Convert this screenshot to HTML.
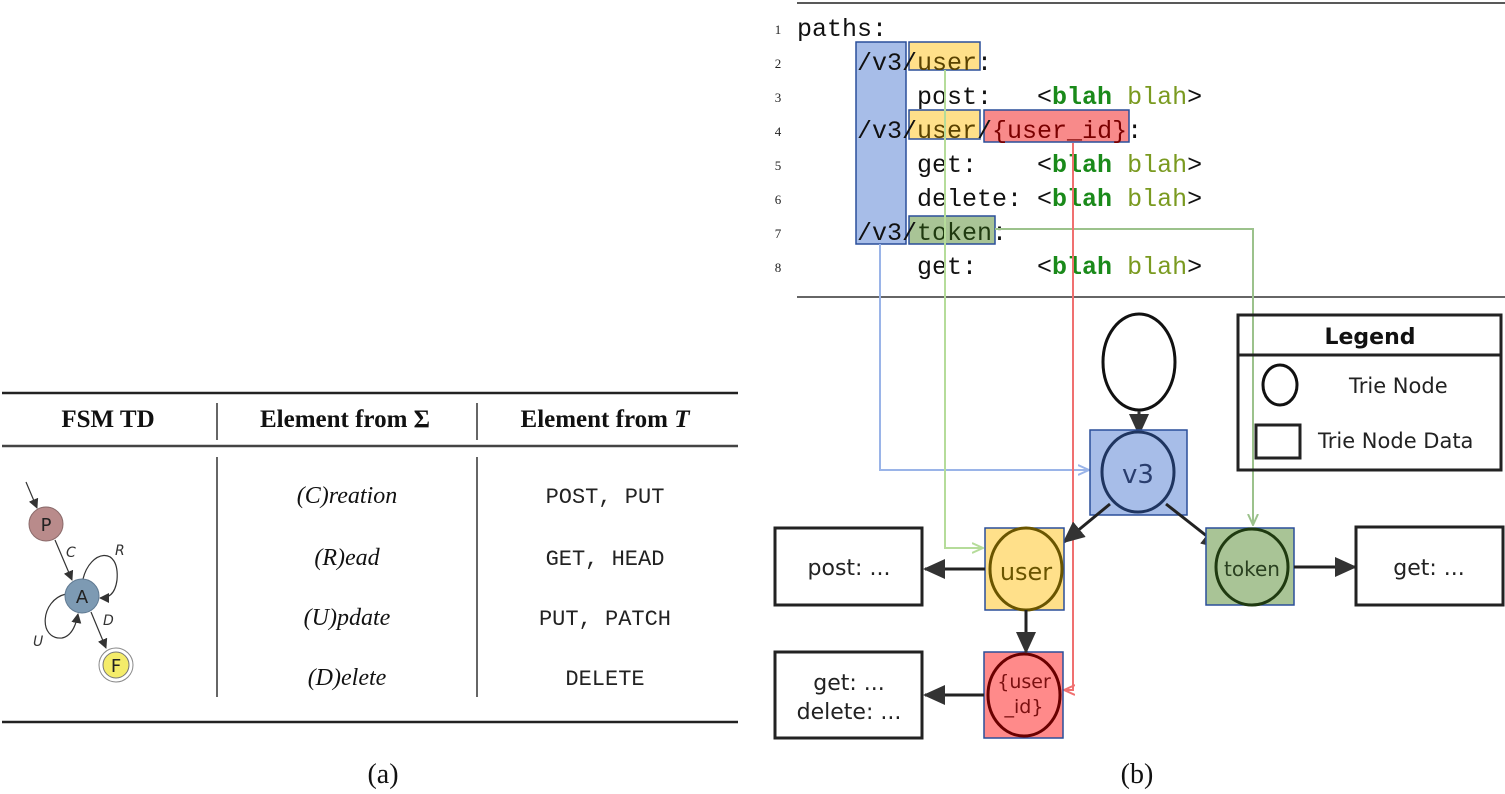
<!DOCTYPE html>
<html><head><meta charset="utf-8"><style>body{margin:0;background:#fff}svg{display:block}.pre text{white-space:pre}</style></head>
<body>
<svg width="1505" height="794" viewBox="0 0 1505 794" xmlns="http://www.w3.org/2000/svg">
<defs>
<marker id="ab" markerWidth="10" markerHeight="10" refX="9" refY="5" orient="auto" markerUnits="userSpaceOnUse"><path d="M0,0 L10,5 L0,10 z" fill="#333"/></marker>
<marker id="ak" markerWidth="22" markerHeight="20" refX="20" refY="10" orient="auto" markerUnits="userSpaceOnUse"><path d="M0,0 L22,10 L0,20 z" fill="#333"/></marker>
<marker id="abl" markerWidth="12" markerHeight="12" refX="11" refY="6" orient="auto" markerUnits="userSpaceOnUse"><path d="M0,1 L11,6 L0,11" fill="none" stroke="#9ab4e8" stroke-width="2"/></marker>
<marker id="agl" markerWidth="12" markerHeight="12" refX="11" refY="6" orient="auto" markerUnits="userSpaceOnUse"><path d="M0,1 L11,6 L0,11" fill="none" stroke="#b5dc9a" stroke-width="2"/></marker>
<marker id="agd" markerWidth="12" markerHeight="12" refX="11" refY="6" orient="auto" markerUnits="userSpaceOnUse"><path d="M0,1 L11,6 L0,11" fill="none" stroke="#9cc28c" stroke-width="2"/></marker>
<marker id="ar" markerWidth="12" markerHeight="12" refX="11" refY="6" orient="auto" markerUnits="userSpaceOnUse"><path d="M0,1 L11,6 L0,11" fill="none" stroke="#f07070" stroke-width="2"/></marker>
</defs>

<!-- LEFT TABLE -->
<line x1="2" y1="393" x2="738" y2="393" stroke="#222" stroke-width="2.5"/>
<line x1="2" y1="446" x2="738" y2="446" stroke="#444" stroke-width="2.5"/>
<line x1="2" y1="722" x2="738" y2="722" stroke="#222" stroke-width="2.5"/>
<line x1="217" y1="403" x2="217" y2="440" stroke="#333" stroke-width="1.5"/>
<line x1="477" y1="403" x2="477" y2="440" stroke="#333" stroke-width="1.5"/>
<line x1="217" y1="457" x2="217" y2="697" stroke="#333" stroke-width="1.5"/>
<line x1="477" y1="457" x2="477" y2="697" stroke="#333" stroke-width="1.5"/>
<g font-family="Liberation Serif, serif" font-weight="bold" font-size="25" text-anchor="middle" fill="#111">
<text x="108" y="427">FSM TD</text>
<text x="345" y="427">Element from Σ</text>
<text x="605" y="427">Element from <tspan font-style="italic">T</tspan></text>
</g>
<g font-family="Liberation Serif, serif" font-style="italic" font-size="24" text-anchor="middle" fill="#111">
<text x="347" y="503">(C)reation</text>
<text x="347" y="565">(R)ead</text>
<text x="347" y="625">(U)pdate</text>
<text x="347" y="685">(D)elete</text>
</g>
<g font-family="Liberation Mono, monospace" font-size="22" text-anchor="middle" fill="#222">
<text x="605" y="503">POST, PUT</text>
<text x="605" y="565">GET, HEAD</text>
<text x="605" y="625">PUT, PATCH</text>
<text x="605" y="685">DELETE</text>
</g>
<!-- FSM -->
<line x1="26" y1="482" x2="37" y2="508" stroke="#333" stroke-width="1.2" marker-end="url(#ab)"/>
<line x1="55" y1="540" x2="72" y2="580" stroke="#333" stroke-width="1.2" marker-end="url(#ab)"/>
<line x1="91" y1="612" x2="106" y2="648" stroke="#333" stroke-width="1.2" marker-end="url(#ab)"/>
<path d="M83,579 C90,550 120,545 117,580 C115,595 108,598 100,598" fill="none" stroke="#333" stroke-width="1.2" marker-end="url(#ab)"/>
<path d="M66,594 C40,600 38,640 62,638 C72,636 76,625 78,614" fill="none" stroke="#333" stroke-width="1.2" marker-end="url(#ab)"/>
<circle cx="46" cy="524" r="17" fill="#b98b8b" stroke="#8a6a6a" stroke-width="1"/>
<circle cx="82" cy="596" r="17" fill="#7d9ab3" stroke="#607a92" stroke-width="1"/>
<circle cx="116" cy="665" r="17" fill="#fff" stroke="#888" stroke-width="1"/>
<circle cx="116" cy="665" r="13" fill="#f4ec6a" stroke="#777" stroke-width="1"/>
<g font-family="DejaVu Sans, sans-serif" font-size="18" text-anchor="middle" fill="#222">
<text x="46" y="531">P</text><text x="82" y="603">A</text><text x="116" y="672">F</text>
</g>
<g font-family="DejaVu Sans, sans-serif" font-style="italic" font-size="14" fill="#333">
<text x="66" y="557">C</text><text x="115" y="555">R</text><text x="103" y="625">D</text><text x="33" y="646">U</text>
</g>
<text x="383" y="783" font-family="Liberation Serif, serif" font-size="28" text-anchor="middle" fill="#111">(a)</text>
<text x="1137" y="783" font-family="Liberation Serif, serif" font-size="28" text-anchor="middle" fill="#111">(b)</text>

<!-- RIGHT CODE -->
<line x1="797" y1="3" x2="1505" y2="3" stroke="#222" stroke-width="1.5"/>
<line x1="797" y1="297" x2="1505" y2="297" stroke="#333" stroke-width="1.5"/>
<rect x="856" y="42" width="50" height="202" fill="#a7bde8" stroke="#2a4e9a" stroke-width="1.5"/>
<rect x="909" y="42" width="71" height="28" fill="#ffe08a" stroke="#2a4e9a" stroke-width="1.5"/>
<rect x="909" y="110" width="71" height="29" fill="#ffe08a" stroke="#2a4e9a" stroke-width="1.5"/>
<rect x="984" y="110" width="145" height="32" fill="#f88a8a" stroke="#2a4e9a" stroke-width="1.5"/>
<rect x="909" y="216" width="86" height="28" fill="#a9c496" stroke="#2a4e9a" stroke-width="1.5"/>
<g font-family="Liberation Serif, serif" font-size="13" fill="#222" text-anchor="middle">
<text x="778" y="34">1</text><text x="778" y="68">2</text><text x="778" y="102">3</text><text x="778" y="136">4</text><text x="778" y="170">5</text><text x="778" y="204">6</text><text x="778" y="238">7</text><text x="778" y="272">8</text>
</g>
<g class="pre" font-family="Liberation Mono, monospace" font-size="25" fill="#111">
<text x="797" y="36">paths:</text>
<text x="857" y="70">/v3/<tspan fill="#5a4200">user</tspan>:</text>
<text x="917" y="104">post:   &lt;<tspan fill="#1a8a1a" font-weight="bold">blah</tspan> <tspan fill="#7a9a20">blah</tspan>&gt;</text>
<text x="857" y="138">/v3/<tspan fill="#5a4200">user</tspan>/<tspan fill="#7a0000">{user_id}</tspan>:</text>
<text x="917" y="172">get:    &lt;<tspan fill="#1a8a1a" font-weight="bold">blah</tspan> <tspan fill="#7a9a20">blah</tspan>&gt;</text>
<text x="917" y="206">delete: &lt;<tspan fill="#1a8a1a" font-weight="bold">blah</tspan> <tspan fill="#7a9a20">blah</tspan>&gt;</text>
<text x="857" y="240">/v3/<tspan fill="#1f3a10">token</tspan>:</text>
<text x="917" y="274">get:    &lt;<tspan fill="#1a8a1a" font-weight="bold">blah</tspan> <tspan fill="#7a9a20">blah</tspan>&gt;</text>
</g>

<!-- colored connectors -->
<polyline points="880,244 880,470 1089,470" fill="none" stroke="#9ab4e8" stroke-width="2" marker-end="url(#abl)"/>
<polyline points="945,70 945,548 983,548" fill="none" stroke="#b5dc9a" stroke-width="2" marker-end="url(#agl)"/>
<polyline points="995,229 1253,229 1253,525" fill="none" stroke="#9cc28c" stroke-width="2" marker-end="url(#agd)"/>
<polyline points="1073,143 1073,690 1064,690" fill="none" stroke="#f07070" stroke-width="2" marker-end="url(#ar)"/>

<!-- graph -->
<ellipse cx="1139" cy="362" rx="36" ry="48" fill="#fff" stroke="#111" stroke-width="3"/>
<line x1="1139" y1="411" x2="1139" y2="434" stroke="#333" stroke-width="3" marker-end="url(#ak)"/>
<rect x="1090" y="430" width="97" height="85" fill="#a7bde8" stroke="#2a4e9a" stroke-width="1.5"/>
<ellipse cx="1138" cy="472" rx="36" ry="40" fill="none" stroke="#1f3560" stroke-width="3"/>
<text x="1138" y="483" font-family="DejaVu Sans, sans-serif" font-size="26" text-anchor="middle" fill="#2a3e6e">v3</text>

<line x1="1110" y1="504" x2="1064" y2="542" stroke="#222" stroke-width="3" marker-end="url(#ak)"/>
<line x1="1166" y1="504" x2="1222" y2="548" stroke="#222" stroke-width="3" marker-end="url(#ak)"/>

<rect x="985" y="528" width="79" height="82" fill="#ffe08a" stroke="#2a4e9a" stroke-width="1.5"/>
<ellipse cx="1026" cy="569" rx="36" ry="41" fill="none" stroke="#6a5500" stroke-width="3"/>
<text x="1026" y="580" font-family="DejaVu Sans, sans-serif" font-size="24" text-anchor="middle" fill="#6a5500">user</text>

<rect x="1206" y="528" width="88" height="77" fill="#a9c496" stroke="#2a4e9a" stroke-width="1.5"/>
<ellipse cx="1252" cy="567" rx="36" ry="38" fill="none" stroke="#1f3a10" stroke-width="3"/>
<text x="1252" y="576" font-family="DejaVu Sans, sans-serif" font-size="20" text-anchor="middle" fill="#2a4020">token</text>

<rect x="984" y="652" width="79" height="86" fill="#ff8a8a" stroke="#2a4e9a" stroke-width="1.5"/>
<ellipse cx="1024" cy="695" rx="36" ry="41" fill="none" stroke="#6a0000" stroke-width="3"/>
<text x="1024" y="688" font-family="DejaVu Sans, sans-serif" font-size="19" text-anchor="middle" fill="#7a1010">{user</text>
<text x="1024" y="713" font-family="DejaVu Sans, sans-serif" font-size="19" text-anchor="middle" fill="#7a1010">_id}</text>

<line x1="985" y1="569" x2="925" y2="569" stroke="#222" stroke-width="3" marker-end="url(#ak)"/>
<line x1="1294" y1="567" x2="1355" y2="567" stroke="#222" stroke-width="3" marker-end="url(#ak)"/>
<line x1="1026" y1="610" x2="1026" y2="652" stroke="#222" stroke-width="3" marker-end="url(#ak)"/>
<line x1="984" y1="695" x2="925" y2="695" stroke="#222" stroke-width="3" marker-end="url(#ak)"/>

<rect x="775" y="528" width="147" height="77" fill="#fff" stroke="#222" stroke-width="3"/>
<rect x="1356" y="527" width="147" height="78" fill="#fff" stroke="#222" stroke-width="3"/>
<rect x="775" y="652" width="147" height="86" fill="#fff" stroke="#222" stroke-width="3"/>
<g font-family="DejaVu Sans, sans-serif" font-size="22" text-anchor="middle" fill="#222">
<text x="849" y="575">post: ...</text>
<text x="1429" y="575">get: ...</text>
<text x="849" y="690">get: ...</text>
<text x="849" y="719">delete: ...</text>
</g>

<!-- legend -->
<rect x="1238" y="315" width="263" height="155" fill="none" stroke="#222" stroke-width="3"/>
<line x1="1238" y1="355" x2="1501" y2="355" stroke="#222" stroke-width="3"/>
<text x="1370" y="344" font-family="DejaVu Sans, sans-serif" font-weight="bold" font-size="22" text-anchor="middle" fill="#111">Legend</text>
<ellipse cx="1280" cy="385" rx="17" ry="20" fill="none" stroke="#111" stroke-width="3"/>
<rect x="1256" y="425" width="44" height="33" fill="none" stroke="#222" stroke-width="3"/>
<g font-family="DejaVu Sans, sans-serif" font-size="21" fill="#222">
<text x="1349" y="393">Trie Node</text>
<text x="1318" y="448">Trie Node Data</text>
</g>
</svg>
</body></html>
